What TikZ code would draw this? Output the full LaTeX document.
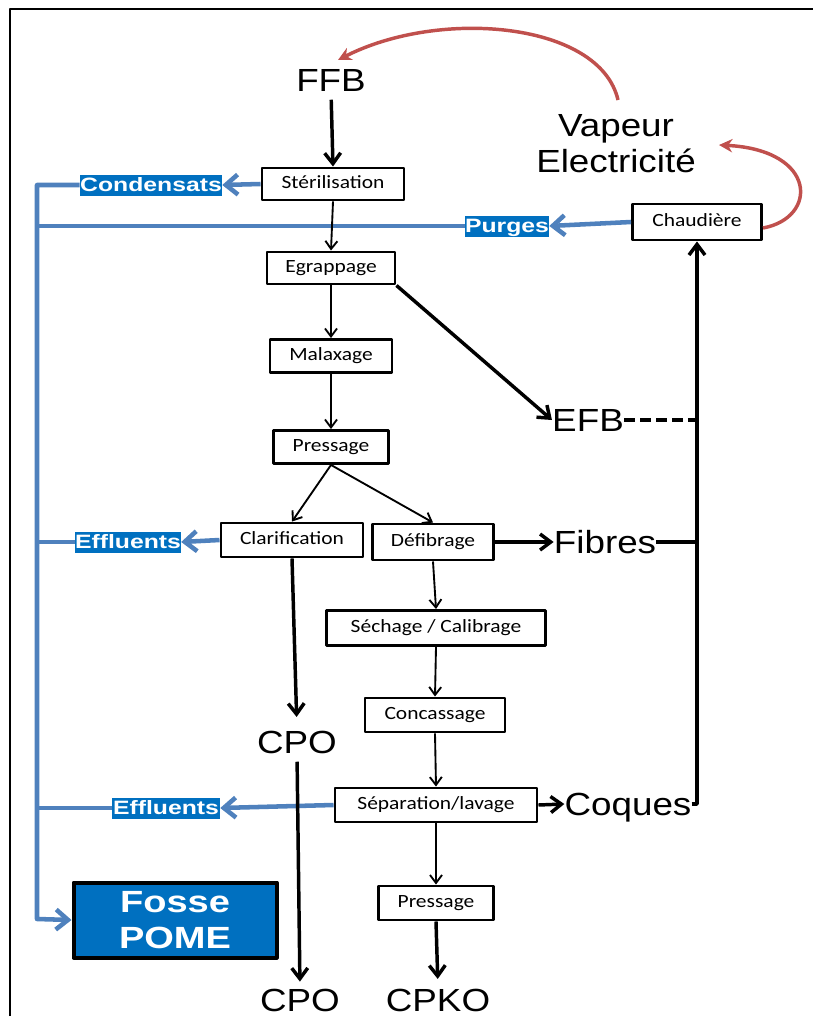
\documentclass[tikz,border=0pt]{standalone}
\usepackage{fontspec}
\setmainfont{Liberation Sans}
\newfontfamily\calfont{Carlito}
\usetikzlibrary{arrows.meta}
\definecolor{lblue}{RGB}{79,129,189}
\definecolor{fblue}{RGB}{0,112,192}
\definecolor{rred}{RGB}{192,80,77}
\newcommand{\hs}[1]{\scalebox{1.15}[1]{#1}}
\newcommand{\ls}[1]{\scalebox{1.28}[1]{#1}}
\newcommand{\fs}[1]{\scalebox{1.24}[1]{#1}}
\begin{document}
\begin{tikzpicture}[x=0.75pt,y=-0.75pt, line join=round,
  box/.style={draw, line width=2.2pt, inner sep=0pt, text height=9pt, text depth=2.5pt,
    font=\calfont\fontsize{14}{16}\selectfont},
  big/.style={inner sep=0pt, text height=17.2pt, text depth=0pt, font=\fontsize{24}{27}\selectfont},
  lab/.style={fill=fblue, text=white, inner sep=0pt, minimum height=15.75pt,
    text height=10.4pt, text depth=0pt, font=\bfseries\fontsize{14.5}{16}\selectfont},
  tarr/.style={line width=1.4pt, -{Straight Barb[length=6pt,width=9pt]}},
  karr/.style={line width=2.6pt, -{Straight Barb[length=8pt,width=12pt]}},
  kline/.style={line width=2.6pt},
  bl/.style={draw=lblue, line width=3.4pt},
  blarr/.style={bl, -{Straight Barb[length=9pt,width=15pt]}},
  rarc/.style={draw=rred, line width=2.6pt, -{Stealth[length=10pt,width=10pt]}}
]
\useasboundingbox (0,0) rectangle (814,1017);
\draw[line width=1.1pt] (10,1016) -- (10,9) -- (813,9);

% text nodes
\node[big] (ffb) at (331,80) {\hs{FFB}};
\node[big, align=center] (vap) at (616,161) {\hs{Vapeur}\\\hs{Electricité}};
\node[big] (efb) at (588,420) {\hs{EFB}};
\node[big] (fib) at (605,542) {\hs{Fibres}};
\node[big] (coq) at (628,804) {\hs{Coques}};
\node[big] (cpoa) at (297,742) {\hs{CPO}};
\node[big] (cpob) at (300,1000) {\hs{CPO}};
\node[big] (cpko) at (438,1000) {\hs{CPKO}};

% boxes
\node[box, minimum width=142*0.75pt, minimum height=32*0.75pt] (ster) at (333,184) {\hs{Stérilisation}};
\node[box, minimum width=128*0.75pt, minimum height=32*0.75pt] (egr) at (331,268) {\hs{Egrappage}};
\node[box, minimum width=122*0.75pt, minimum height=33*0.75pt] (mal) at (331,356) {\hs{Malaxage}};
\node[box, minimum width=115*0.75pt, minimum height=33*0.75pt] (pres) at (331,447) {\hs{Pressage}};
\node[box, minimum width=142*0.75pt, minimum height=34*0.75pt] (clar) at (292,540) {\hs{Clarification}};
\node[box, minimum width=121*0.75pt, minimum height=36*0.75pt] (def) at (433,542) {\hs{Défibrage}};
\node[box, minimum width=219*0.75pt, minimum height=35*0.75pt] (sech) at (436,628) {\hs{Séchage / Calibrage}};
\node[box, minimum width=140*0.75pt, minimum height=34*0.75pt] (conc) at (435,715) {\hs{Concassage}};
\node[box, minimum width=202*0.75pt, minimum height=34*0.75pt] (sep) at (436,805) {\hs{Séparation/lavage}};
\node[box, minimum width=115*0.75pt, minimum height=34*0.75pt] (presb) at (436,903) {\hs{Pressage}};
\node[box, minimum width=129*0.75pt, minimum height=36*0.75pt] (chaud) at (697,222) {\hs{Chaudière}};

% blue labels
\node[lab, minimum width=142*0.75pt] (cond) at (151,185) {\ls{Condensats}};
\node[lab, minimum width=84*0.75pt] (purg) at (507,226) {\ls{Purges}};
\node[lab, minimum width=105*0.75pt] (effa) at (128,542) {\ls{Effluents}};
\node[lab, minimum width=108*0.75pt] (effb) at (166,808) {\ls{Effluents}};

% Fosse POME
\node[draw, line width=3pt, fill=fblue, text=white, inner sep=0pt,
  minimum width=203*0.75pt, minimum height=75*0.75pt, align=center,
  font=\bfseries\fontsize{23}{27.5}\selectfont] (fosse) at (175,920) {\fs{Fosse}\\\fs{POME}};

% blue flows
\coordinate (tA) at (37,185);
\coordinate (tB) at (37,919);
\draw[blarr] (cond.west) -- (tA) -- (tB) -- (fosse.west);
\draw[bl] (purg.west) -- (purg.west -| tA);
\draw[bl] (effa.west) -- (effa.west -| tA);
\draw[bl] (effb.west) -- (effb.west -| tA);
\draw[blarr] (ster.west) -- (cond.east);
\draw[blarr] (chaud.west) -- (purg.east);
\draw[blarr] (clar.west) -- (effa.east);
\draw[blarr] (sep.west) -- (effb.east);

% main chain
\draw[karr, shorten <=6pt] (ffb.south) -- (ster.north);
\draw[tarr] (ster.south) -- (egr.north);
\draw[tarr] (egr.south) -- (mal.north);
\draw[tarr] (mal.south) -- (pres.north);
\draw[tarr] (pres.south) -- (clar.north);
\draw[tarr] (pres.south) -- (def.north);
\draw[tarr] (def.south) -- (sech.north);
\draw[tarr] (sech.south) -- (conc.north);
\draw[tarr] (conc.south) -- (sep.north);
\draw[tarr] (sep.south) -- (presb.north);
\draw[karr, shorten >=10pt] (clar.south) -- (cpoa.north);
\draw[karr, shorten <=6pt, shorten >=5pt] (cpoa.south) -- (cpob.north);
\draw[karr, shorten >=7pt] (presb.south) -- (cpko.north);

% by-products to boiler
\draw[karr] (egr.south east) -- (efb.west);
\draw[karr] (def.east) -- (fib.west);
\draw[karr] (sep.east) -- (coq.west);
\draw[kline, dash pattern=on 8pt off 4pt] (efb.east) -- (efb.east -| chaud.south);
\draw[kline] (fib.east) -- (fib.east -| chaud.south);
\draw[karr] (coq.east) -| (chaud.south);

% energy arcs
\coordinate (rS1) at (618,100);
\coordinate (rE1) at (338,60);
\draw[rarc] (rS1) .. controls (600,22) and (440,8) .. (rE1);
\coordinate (rS2) at (763,228);
\coordinate (rE2) at (719,145);
\draw[rarc] (rS2) .. controls (818,218) and (818,150) .. (rE2);
\end{tikzpicture}
\end{document}
